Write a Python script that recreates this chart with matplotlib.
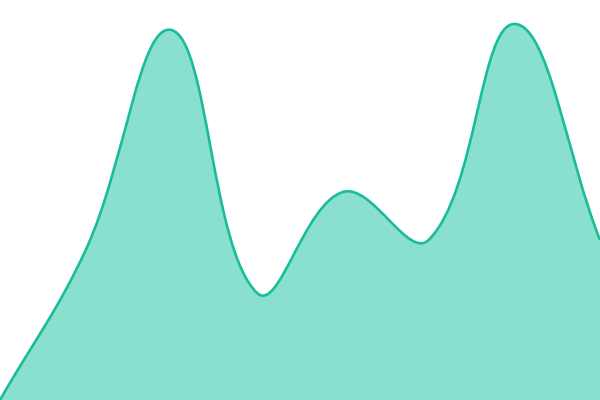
import numpy as np
import matplotlib.pyplot as plt
from matplotlib.path import Path
from matplotlib.patches import PathPatch

# data points (evenly spaced along x)
xs = [0, 1, 2, 3, 4, 5, 6, 7]
values = [0, 150, 370, 107, 208, 160, 376, 160]
tension = 0.4

W, H = 600, 400
fig = plt.figure(figsize=(6, 4), dpi=100)
ax = fig.add_axes([0, 0, 1, 1])
ax.set_xlim(0, 7)
ax.set_ylim(0, 400)
ax.axis("off")

# work in pixel space so the control points are distance weighted
pts = ax.transData.transform(np.column_stack([xs, values]))
n = len(pts)
ctrl_prev = np.zeros_like(pts)
ctrl_next = np.zeros_like(pts)
for i in range(n):
    cur = pts[i]
    prev = pts[i - 1] if i > 0 else cur
    nxt = pts[i + 1] if i < n - 1 else cur
    d01 = np.hypot(*(cur - prev))
    d12 = np.hypot(*(nxt - cur))
    tot = d01 + d12
    s01 = d01 / tot if tot else 0
    s12 = d12 / tot if tot else 0
    ctrl_prev[i] = cur - tension * s01 * (nxt - prev)
    ctrl_next[i] = cur + tension * s12 * (nxt - prev)
ctrl_prev[:, 0] = ctrl_prev[:, 0].clip(0, W)
ctrl_prev[:, 1] = ctrl_prev[:, 1].clip(0, H)
ctrl_next[:, 0] = ctrl_next[:, 0].clip(0, W)
ctrl_next[:, 1] = ctrl_next[:, 1].clip(0, H)

inv = ax.transData.inverted()
verts = [inv.transform(pts[0])]
codes = [Path.MOVETO]
for i in range(n - 1):
    verts += [inv.transform(ctrl_next[i]), inv.transform(ctrl_prev[i + 1]), inv.transform(pts[i + 1])]
    codes += [Path.CURVE4] * 3
line_path = Path(verts, codes)
fill_path = Path(verts + [(xs[-1], 0), (xs[0], 0), verts[0]],
                 codes + [Path.LINETO, Path.LINETO, Path.CLOSEPOLY])

ax.add_patch(PathPatch(fill_path, facecolor="#8ae0cf", edgecolor="none"))
ax.add_patch(PathPatch(line_path, facecolor="none", edgecolor="#1abc9c", linewidth=1.9))

fig.savefig("out.png", dpi=100)
